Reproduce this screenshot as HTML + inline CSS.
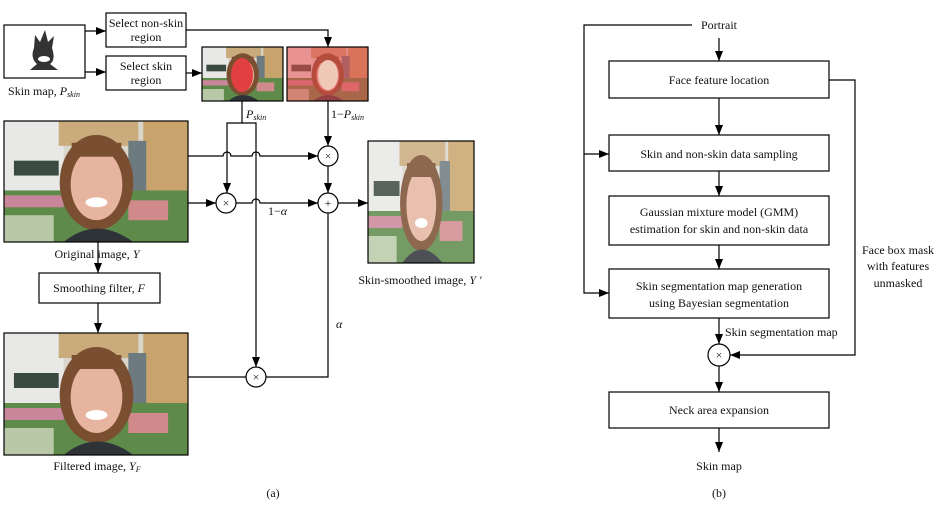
<!DOCTYPE html>
<html><head><meta charset="utf-8"><style>
html,body{margin:0;padding:0;background:#fff}
svg{display:block}
text{font-family:"Liberation Serif",serif;font-size:12px;fill:#111}
</style></head><body>
<svg width="946" height="506" viewBox="0 0 946 506" xmlns="http://www.w3.org/2000/svg">
<defs>
<marker id="ah" markerWidth="10" markerHeight="8" refX="10" refY="4" orient="auto" markerUnits="userSpaceOnUse"><path d="M0,0 L10,4 L0,8z" fill="#000"/></marker>
<symbol id="photo" viewBox="0 0 185 122" preserveAspectRatio="none">
<rect width="185" height="122" fill="#d9d6cc"/>
<rect x="0" y="0" width="60" height="70" fill="#e8e8e6"/>
<rect x="55" y="0" width="80" height="25" fill="#c9ab7c"/>
<rect x="140" y="0" width="45" height="122" fill="#c8a46c"/>
<rect x="125" y="20" width="18" height="60" fill="#6d7a80"/>
<rect x="10" y="40" width="45" height="15" fill="#3a4a40"/>
<rect x="0" y="70" width="185" height="52" fill="#5e8a4a"/>
<rect x="0" y="75" width="60" height="12" fill="#c9869a"/>
<rect x="125" y="80" width="40" height="20" fill="#d08a8c"/>
<rect x="0" y="95" width="50" height="27" fill="#b9c9a8"/>
<ellipse cx="93" cy="62" rx="37" ry="48" fill="#7a4e30"/>
<ellipse cx="93" cy="64" rx="26" ry="36" fill="#e6b49f"/>
<path d="M60,122 Q93,95 130,122z" fill="#2e3338"/>
<rect x="68" y="22" width="50" height="14" fill="#7a4e30"/>
<ellipse cx="93" cy="82" rx="11" ry="5" fill="#fff"/>
</symbol>
</defs>
<g fill="none" stroke="#000" stroke-width="1.2">
<!-- left part -->
<rect x="4" y="25" width="81" height="53"/>
<rect x="106" y="13" width="80" height="34"/>
<rect x="106" y="56" width="80" height="34"/>
<line x1="85" y1="31" x2="106" y2="31" marker-end="url(#ah)"/>
<line x1="85" y1="72" x2="106" y2="72" marker-end="url(#ah)"/>
<path d="M186,30 H328 V47" marker-end="url(#ah)"/>
<line x1="186" y1="73" x2="202" y2="73" marker-end="url(#ah)"/>
<path d="M242,101 V123 H227 V193" marker-end="url(#ah)"/>
<path d="M242,123 H256 V367" marker-end="url(#ah)"/>
<line x1="328" y1="101" x2="328" y2="146" marker-end="url(#ah)"/>
<path d="M188,156 H223 a4,4 0 0 1 8,0 H252 a4,4 0 0 1 8,0 H318" marker-end="url(#ah)"/>
<line x1="188" y1="203" x2="216" y2="203" marker-end="url(#ah)"/>
<path d="M236,203 H252 a4,4 0 0 1 8,0 H318" marker-end="url(#ah)"/>
<line x1="328" y1="166" x2="328" y2="193" marker-end="url(#ah)"/>
<line x1="338" y1="203" x2="368" y2="203" marker-end="url(#ah)"/>
<path d="M328,213 V377 H266"/>
<line x1="188" y1="377" x2="246" y2="377"/>
<line x1="98" y1="242" x2="98" y2="273" marker-end="url(#ah)"/>
<rect x="39" y="273" width="121" height="30"/>
<line x1="98" y1="303" x2="98" y2="333" marker-end="url(#ah)"/>
<circle cx="226" cy="203" r="10" fill="#fff"/>
<circle cx="328" cy="156" r="10" fill="#fff"/>
<circle cx="328" cy="203" r="10" fill="#fff"/>
<circle cx="256" cy="377" r="10" fill="#fff"/>
<!-- right part -->
<path d="M692,25 H584 V293 H609" marker-end="url(#ah)"/>
<line x1="584" y1="154" x2="609" y2="154" marker-end="url(#ah)"/>
<line x1="719" y1="38" x2="719" y2="61" marker-end="url(#ah)"/>
<rect x="609" y="61" width="220" height="37"/>
<line x1="719" y1="98" x2="719" y2="135" marker-end="url(#ah)"/>
<rect x="609" y="135" width="220" height="36"/>
<line x1="719" y1="171" x2="719" y2="196" marker-end="url(#ah)"/>
<rect x="609" y="196" width="220" height="49"/>
<line x1="719" y1="245" x2="719" y2="269" marker-end="url(#ah)"/>
<rect x="609" y="269" width="220" height="49"/>
<line x1="719" y1="318" x2="719" y2="344" marker-end="url(#ah)"/>
<path d="M829,80 H855 V355 H730" marker-end="url(#ah)"/>
<circle cx="719" cy="355" r="11" fill="#fff"/>
<line x1="719" y1="366" x2="719" y2="392" marker-end="url(#ah)"/>
<rect x="609" y="392" width="220" height="36"/>
<line x1="719" y1="428" x2="719" y2="452" marker-end="url(#ah)"/>
</g>
<!-- skin map silhouette -->
<path d="M35,35 L40,42 L45,30 L48,42 L54,36 L52,48 Q56,60 50,64 L58,70 L30,70 L37,64 Q30,58 34,48z" fill="#333"/>
<ellipse cx="44" cy="59" rx="6" ry="3" fill="#fff"/>
<!-- photos -->
<use href="#photo" x="4" y="121" width="184" height="121"/>
<use href="#photo" x="4" y="333" width="184" height="122"/>
<g opacity="0.85"><use href="#photo" x="368" y="141" width="106" height="122"/></g>
<use href="#photo" x="202" y="47" width="81" height="54"/>
<ellipse cx="242" cy="75" rx="11" ry="17" fill="#e24040"/>
<use href="#photo" x="287" y="47" width="81" height="54"/>
<rect x="287" y="47" width="81" height="54" fill="#e84a4a" opacity="0.55"/>
<ellipse cx="328" cy="75" rx="10" ry="15" fill="#f0c8b8"/>
<g fill="none" stroke="#000" stroke-width="1.2">
<rect x="4" y="121" width="184" height="121"/><rect x="4" y="333" width="184" height="122"/>
<rect x="368" y="141" width="106" height="122"/><rect x="202" y="47" width="81" height="54"/><rect x="287" y="47" width="81" height="54"/>
</g>
<!-- texts -->
<g text-anchor="middle">
<text x="146" y="27">Select non-skin</text><text x="146" y="41">region</text>
<text x="146" y="70">Select skin</text><text x="146" y="84">region</text>
<text x="44" y="95">Skin map, <tspan font-style="italic">P</tspan><tspan font-style="italic" font-size="8" dy="2">skin</tspan></text>
<text x="226" y="207" font-size="10">×</text><text x="328" y="160" font-size="10">×</text>
<text x="328" y="207" font-size="11">+</text><text x="256" y="381" font-size="10">×</text>
<text x="97" y="258">Original image, <tspan font-style="italic">Y</tspan></text>
<text x="99" y="292">Smoothing filter, <tspan font-style="italic">F</tspan></text>
<text x="97" y="470">Filtered image, <tspan font-style="italic">Y<tspan font-size="8" dy="2">F</tspan></tspan></text>
<text x="420" y="284">Skin-smoothed image, <tspan font-style="italic">Y ′</tspan></text>
<text x="273" y="497" font-size="13">(a)</text>
<text x="719" y="29">Portrait</text>
<text x="719" y="84">Face feature location</text>
<text x="719" y="158">Skin and non-skin data sampling</text>
<text x="719" y="216">Gaussian mixture model (GMM)</text>
<text x="719" y="233">estimation for skin and non-skin data</text>
<text x="719" y="290">Skin segmentation map generation</text>
<text x="719" y="307">using Bayesian segmentation</text>
<text x="719" y="359" font-size="10">×</text>
<text x="719" y="414">Neck area expansion</text>
<text x="719" y="470">Skin map</text>
<text x="719" y="497" font-size="13">(b)</text>
<text x="898" y="254">Face box mask</text><text x="898" y="270">with features</text><text x="898" y="287">unmasked</text>
</g>
<text x="246" y="118" font-style="italic">P<tspan font-size="8" dy="2">skin</tspan></text>
<text x="331" y="118">1−<tspan font-style="italic">P</tspan><tspan font-style="italic" font-size="8" dy="2">skin</tspan></text>
<text x="268" y="215">1−<tspan font-style="italic">α</tspan></text>
<text x="336" y="328" font-style="italic">α</text>
<text x="725" y="336">Skin segmentation map</text>
</svg>
</body></html>
